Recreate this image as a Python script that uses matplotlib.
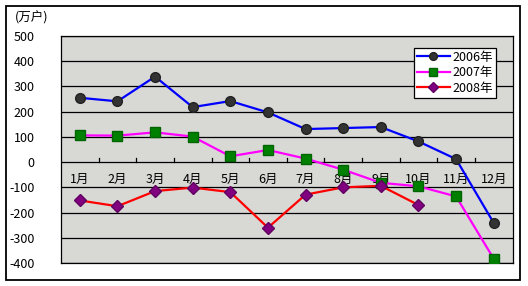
import matplotlib
matplotlib.use("Agg")
import matplotlib.pyplot as plt
from matplotlib.patches import Rectangle

plt.rcParams['font.family'] = ['Noto Sans CJK SC', 'DejaVu Sans']

months = ['1月', '2月', '3月', '4月', '5月', '6月', '7月', '8月', '9月', '10月', '11月', '12月']
s2006 = [255, 241, 339, 218, 242, 197, 131, 135, 139, 82, 12, -241]
s2007 = [106, 105, 118, 101, 23, 48, 14, -30, -82, -96, -136, -383]
s2008 = [-152, -175, -115, -101, -119, -260, -129, -100, -94, -170]
series_names = ['2006年', '2007年', '2008年']
yticks = [500, 400, 300, 200, 100, 0, -100, -200, -300, -400]

W, H = 528, 286
fig = plt.figure(figsize=(W / 100, H / 100), dpi=100)
fig.patch.set_facecolor('white')

# outer frame
fig.patches.append(Rectangle((5.5 / W, 1 - 279.5 / H), 514.5 / W, 274 / H,
                             transform=fig.transFigure, fill=False,
                             edgecolor='black', linewidth=1.3))

ax = fig.add_axes([61 / W, 1 - 263 / H, 451.5 / W, 227 / H])
ax.set_facecolor('#d8d8d5')
ax.set_xlim(-0.5, 11.5)
ax.set_ylim(-400, 500)

for v in yticks:
    ax.axhline(v, color='black', linewidth=0.9, zorder=1)

x = list(range(len(months)))
ax.plot(x, s2006, color='#0000ff', linewidth=1.6, marker='o', markersize=7,
        markerfacecolor='#333333', markeredgecolor='#222222', zorder=3, label=series_names[0])
ax.plot(x, s2007, color='#ff00ff', linewidth=1.6, marker='s', markersize=6.5,
        markerfacecolor='#008000', markeredgecolor='#006400', zorder=3, label=series_names[1])
ax.plot(x[:len(s2008)], s2008, color='#ff0000', linewidth=1.6, marker='D', markersize=6,
        markerfacecolor='#800080', markeredgecolor='#600060', zorder=4, label=series_names[2])

# category ticks on zero line
for b in range(1, len(months)):
    ax.plot([b - 0.5, b - 0.5], [0, 16], color='black', linewidth=0.9, zorder=2)

# month labels inside plot
for i, m in enumerate(months):
    ax.text(i, -68, m, ha='center', va='center', fontsize=9, zorder=2)

ax.set_xticks([])
ax.set_yticks(yticks)
ax.set_yticklabels([str(v) for v in yticks], fontsize=9)
ax.tick_params(axis='y', length=0, pad=19)
for sp in ax.spines.values():
    sp.set_color('black')
    sp.set_linewidth(0.9)

fig.text(15 / W, 1 - 18 / H, '(万户)', ha='left', va='center', fontsize=9)

leg = fig.legend(loc='upper left', bbox_to_anchor=(414 / W, 1 - 47.5 / H),
                 fontsize=9, frameon=True, fancybox=False, framealpha=1,
                 edgecolor='black', borderpad=0.25, labelspacing=0.2,
                 handlelength=2.6, handletextpad=0.2, borderaxespad=0,
                 markerscale=0.8)
leg.get_frame().set_linewidth(0.9)

fig.savefig('out.png', dpi=100)
